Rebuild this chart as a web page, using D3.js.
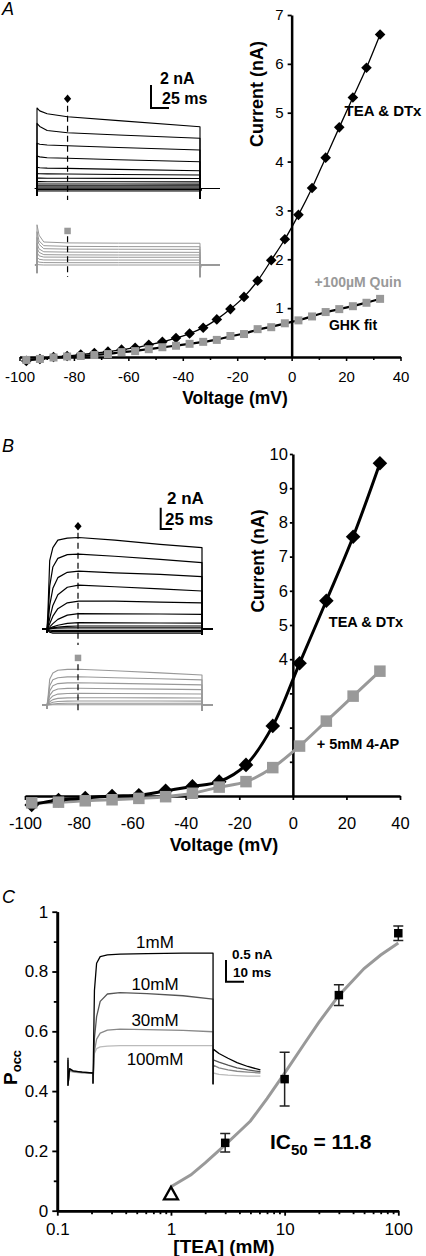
<!DOCTYPE html>
<html><head><meta charset="utf-8">
<script src="https://cdn.jsdelivr.net/npm/d3@7"></script>
<style>html,body{margin:0;padding:0;background:#fff;} svg{display:block;}</style>
</head><body>
<svg id="chart" width="426" height="1256"></svg>
<script>
// ================= DATA =================
// Panel A : I-V curves (5 mV steps)
const voltA = [-97.5,-92.5,-87.5,-82.5,-77.5,-72.5,-67.5,-62.5,-57.5,-52.5,-47.5,-42.5,-37.5,-32.5,-27.5,-22.5,-17.5,-12.5,-7.5,-2.5,2.5,7.5,12.5,17.5,22.5,27.5,32.5];
const teaA  = [-0.08,-0.04,0.0,0.02,0.05,0.08,0.11,0.15,0.19,0.25,0.31,0.39,0.48,0.60,0.77,0.98,1.23,1.56,1.98,2.41,2.91,3.46,4.08,4.70,5.31,5.92,6.60];
const quinA = [-0.06,-0.04,-0.01,0.01,0.02,0.04,0.06,0.10,0.12,0.16,0.20,0.23,0.27,0.31,0.35,0.43,0.47,0.57,0.61,0.69,0.75,0.83,0.92,0.98,1.04,1.11,1.19];
const xTicksA = [-100,-80,-60,-40,-20,0,20,40];
const xTickLabelsA = ["-100","-80","-60","-40","-20","0","20","40"];
const xMinorTicksA = [-90,-70,-50,-30,-10,10,30];
const yTicksA = [1,2,3,4,5,6,7];
const yTickLabelsA = ["1","2","3","4","5","6","7"];

// Panel B : I-V curves (10 mV steps)
const voltB = [-97.5,-87.5,-77.5,-67.5,-57.5,-47.5,-37.5,-27.5,-17.5,-7.5,2.5,12.5,22.5,32.5];
const teaB  = [-0.26,-0.12,-0.06,0.0,0.02,0.15,0.28,0.42,0.91,2.05,3.88,5.71,7.58,9.73];
const apB   = [-0.20,-0.18,-0.14,-0.11,-0.07,-0.02,0.08,0.26,0.42,0.83,1.46,2.19,2.92,3.65];
const xTicksB = [-100,-80,-60,-40,-20,0,20,40];
const xTickLabelsB = ["-100","-80","-60","-40","-20","0","20","40"];
const yTicksB = [1,2,3,4,5,6,7,8,9,10];
const yTickLabelsB = ["","","","4","5","6","7","8","9","10"];

// Panel C : dose response
const teaConc  = [3,10,30,100];
const poccMean = [0.227,0.44,0.721,0.928];
const poccErr  = [0.031,0.09,0.035,0.024];
const ctrlConc = [1];
const ctrlPocc = [0.058];
const fitConc  = [1,1.5,2,3,4,5,7,10,15,20,30,50,70,100];
const fitPocc  = [0.08,0.12,0.16,0.22,0.265,0.30,0.375,0.46,0.56,0.63,0.72,0.81,0.855,0.895];
const xTicksC = [0.1,1,10,100];
const xTickLabelsC = ["0.1","1","10","100"];
const yTicksC = [0,0.2,0.4,0.6,0.8,1];
const yTickLabelsC = ["0","0.2","0.4","0.6","0.8","1"];
const yMinorTicksC = [0.1,0.3,0.5,0.7,0.9];

// Inset traces A (ms, nA)
const insetTimesA = [0,4,15,45,120,240];
const insetBlackA = [
  [7.0,6.75,6.5,6.24,5.9,5.37],
  [5.67,5.4,5.05,4.85,4.65,4.37],
  [3.93,3.85,3.78,3.72,3.56,3.35],
  [2.83,2.75,2.68,2.63,2.5,2.33],
  [1.85,1.8,1.77,1.75,1.66,1.55],
  [1.3,1.28,1.27,1.26,1.22,1.17],
  [0.9,0.9,0.89,0.89,0.88,0.87],
  [0.6,0.6,0.59,0.59,0.59,0.58],
  [0.39,0.39,0.39,0.39,0.39,0.38],
  [0.24,0.24,0.24,0.24,0.24,0.24],
  [0.13,0.13,0.13,0.13,0.13,0.13],
  [0.02,0.02,0.02,0.02,0.02,0.02],
  [-0.1,-0.1,-0.1,-0.1,-0.1,-0.1],
  [-0.22,-0.22,-0.22,-0.22,-0.22,-0.22]
];
const insetTimesAg = [0,3,10,45,120,240];
const insetGrayA = [
  [3.5,2.6,2.0,1.92,1.9,1.89],
  [2.9,2.1,1.68,1.62,1.6,1.59],
  [2.4,1.8,1.42,1.38,1.37,1.36],
  [1.9,1.4,1.15,1.12,1.11,1.1],
  [1.5,1.1,0.9,0.88,0.87,0.87],
  [1.1,0.8,0.69,0.68,0.67,0.67],
  [0.7,0.5,0.44,0.43,0.43,0.43],
  [0.35,0.25,0.21,0.2,0.2,0.2],
  [0.05,0.02,0.0,0.0,0.0,0.0]
];
// Inset traces B
const insetTimesB = [0,2,6,13,24,45,70,150,250,343];
const insetBlackB = [
  [0,1.5,6.4,7.6,8.3,8.5,8.55,8.3,7.9,7.6],
  [0,0.8,4.0,5.8,6.6,6.95,7.0,6.8,6.5,6.2],
  [0,0.4,2.2,3.8,4.8,5.3,5.4,5.25,5.1,4.9],
  [0,0.2,1.0,2.2,3.2,3.9,4.1,3.95,3.75,3.55],
  [0,0.1,0.5,1.2,1.9,2.45,2.6,2.6,2.52,2.45],
  [0,0.05,0.2,0.5,0.9,1.3,1.43,1.42,1.4,1.37],
  [0,0.02,0.08,0.2,0.35,0.52,0.6,0.58,0.56,0.55],
  [0,0.01,0.04,0.1,0.18,0.25,0.28,0.28,0.28,0.28],
  [0,0,0.02,0.05,0.08,0.1,0.1,0.1,0.1,0.1],
  [0,-0.05,-0.1,-0.12,-0.12,-0.12,-0.12,-0.12,-0.12,-0.12],
  [0,-0.1,-0.2,-0.25,-0.25,-0.25,-0.25,-0.25,-0.25,-0.25],
  [0,-0.15,-0.3,-0.38,-0.38,-0.38,-0.38,-0.38,-0.38,-0.38]
];
const insetGrayB = [
  [0,0.6,2.4,3.0,3.25,3.33,3.34,3.2,3.0,2.8],
  [0,0.4,1.8,2.35,2.55,2.63,2.64,2.55,2.45,2.35],
  [0,0.3,1.3,1.8,2.0,2.07,2.08,2.02,1.95,1.88],
  [0,0.2,0.9,1.3,1.5,1.55,1.56,1.52,1.48,1.44],
  [0,0.1,0.55,0.85,1.02,1.08,1.09,1.07,1.05,1.03],
  [0,0.05,0.3,0.5,0.62,0.67,0.68,0.68,0.67,0.66],
  [0,0.02,0.15,0.26,0.33,0.36,0.37,0.37,0.37,0.36],
  [0,0.01,0.05,0.1,0.14,0.16,0.16,0.16,0.16,0.16],
  [0,0,0.01,0.02,0.03,0.03,0.03,0.03,0.03,0.03]
];
// Inset traces C
const insetLabelsC = ["1mM","10mM","30mM","100mM"];
const insetColorsC = ["#000","#555","#888","#bbb"];
const insetTimesC = [-13.9,-13.9,-13,-11,-6,0,0,0.8,2,4,8,15,30,50,66.7,66.7,66.8,70,75,80,86,93];
const insetTracesC = [
  [0.35,-0.28,0.1,0.05,0.02,0,-0.23,1.9,2.53,2.68,2.72,2.74,2.75,2.76,2.76,-0.25,0.55,0.45,0.34,0.24,0.15,0.07],
  [0.3,-0.28,0.08,0.04,0.02,0,-0.23,0.8,1.3,1.65,1.82,1.85,1.83,1.78,1.70,-0.25,0.3,0.25,0.18,0.12,0.07,0.03],
  [0.25,-0.28,0.06,0.03,0.01,0,-0.23,0.5,0.78,0.92,0.99,1.01,1.0,0.98,0.95,-0.25,0.18,0.12,0.07,0.04,0.02,0.0],
  [0.2,-0.28,0.04,0.02,0.0,0,-0.23,0.45,0.56,0.6,0.62,0.63,0.63,0.63,0.63,-0.25,0.0,-0.03,-0.05,-0.06,-0.07,-0.07]
];

// ================= DRAW =================
const FONT = "'Liberation Sans', Arial, Helvetica, sans-serif";
const GRAY = "#999";
const svg = d3.select("#chart");
svg.append("rect").attr("width",426).attr("height",1256).attr("fill","#fff");

function styleAxis(sel, lw, fs) {
  sel.attr("font-family", FONT).attr("font-size", fs);
  sel.select(".domain").attr("stroke","#000").attr("stroke-width", lw);
  sel.selectAll(".tick line").attr("stroke","#000").attr("stroke-width", Math.max(1.2, lw*0.7));
  sel.selectAll(".tick text").attr("fill","#000");
}
function txt(x, y, s, opt) {
  opt = opt || {};
  return svg.append("text").attr("x",x).attr("y",y).text(s)
    .attr("font-family",FONT).attr("font-size",opt.size||14)
    .attr("font-weight",opt.bold?"bold":"normal")
    .attr("font-style",opt.italic?"italic":"normal")
    .attr("text-anchor",opt.anchor||"start")
    .attr("fill",opt.fill||"#000");
}
function vtxt(x, y, s, size) {
  return svg.append("text").attr("transform",`translate(${x},${y}) rotate(-90)`)
    .attr("text-anchor","middle").attr("font-family",FONT).attr("font-size",size)
    .attr("font-weight","bold").text(s);
}
const diamondPath = (w,h) => `M0,${-h}L${w},0L0,${h}L${-w},0Z`;
const squarePath = s => `M${-s/2},${-s/2}h${s}v${s}h${-s}Z`;

function drawTraces(g, xs, ys, times, traces, color, sw, o) {
  const line = d3.line().x(d=>xs(d[0])).y(d=>ys(d[1]));
  traces.forEach(vals => {
    const pts = [[o.pre,0],[0,0],[0,o.onSpike]]
      .concat(times.map((t,i)=>[t, vals[i]]))
      .concat([[o.end,o.offSpike],[o.end+1,0],[o.post,0]]);
    g.append("path").attr("d", line(pts)).attr("fill","none")
      .attr("stroke", color).attr("stroke-width", sw).attr("stroke-linejoin","round");
  });
}
function scaleBar(x, y, w, h, sw) {
  svg.append("path").attr("d",`M${x},${y-h}V${y}H${x+w}`).attr("fill","none")
    .attr("stroke","#000").attr("stroke-width",sw);
}

// ---------- Panel A ----------
const xA = d3.scaleLinear().domain([-100,40]).range([19.5,400.5]);
const yA = d3.scaleLinear().domain([0,7]).range([357,15]);
svg.append("g").attr("transform","translate(0,357)")
  .call(d3.axisBottom(xA).tickValues(xMinorTicksA).tickSize(3).tickFormat("").tickSizeOuter(0))
  .call(g=>styleAxis(g,2.2,15));
svg.append("g").attr("transform","translate(0,357)")
  .call(d3.axisBottom(xA).tickValues(xTicksA).tickSize(4).tickPadding(10).tickSizeOuter(0)
        .tickFormat((d,i)=>xTickLabelsA[i]))
  .call(g=>styleAxis(g,2.2,15));
svg.append("g").attr("transform",`translate(${xA(0)},0)`)
  .call(d3.axisLeft(yA).tickValues(yTicksA).tickSize(4).tickPadding(4).tickSizeOuter(0)
        .tickFormat((d,i)=>yTickLabelsA[i]))
  .call(g=>styleAxis(g,2.5,15));

const lineA = d3.line().x((d,i)=>xA(voltA[i])).y(d=>yA(d));
svg.append("path").attr("d", lineA.curve(d3.curveCatmullRom)(teaA)).attr("fill","none")
  .attr("stroke","#000").attr("stroke-width",1.3);
svg.append("g").selectAll("path").data(teaA).join("path")
  .attr("d", diamondPath(5.3,5.3)).attr("fill","#000")
  .attr("transform",(d,i)=>`translate(${xA(voltA[i])},${yA(d)})`);
svg.append("path").attr("d", lineA.curve(d3.curveBasis)(quinA)).attr("fill","none")
  .attr("stroke","#000").attr("stroke-width",2.2);
svg.append("g").selectAll("path").data(quinA).join("path")
  .attr("d", squarePath(8)).attr("fill",GRAY)
  .attr("transform",(d,i)=>`translate(${xA(voltA[i])},${yA(d)})`);

txt(2,15,"A",{size:18,italic:true});
vtxt(263,94,"Current (nA)",18);
txt(235,404,"Voltage (mV)",{size:17.5,bold:true,anchor:"middle"});
txt(383,116,"TEA & DTx",{size:15,bold:true,anchor:"middle"});
txt(358,287,"+100\u00B5M Quin",{size:14,bold:true,anchor:"middle",fill:GRAY});
txt(353,330,"GHK fit",{size:14,bold:true,anchor:"middle"});

// Inset A
const insAx = d3.scaleLinear().domain([0,240]).range([37,200]);
const insAy = d3.scaleLinear().domain([0,2]).range([188.5,165.5]);
const gInsA = svg.append("g");
drawTraces(gInsA, insAx, insAy, insetTimesA, insetBlackA, "#000", 1.1,
  {pre:-3, onSpike:-0.6, end:240, offSpike:-0.85, post:269});
const insAgy = d3.scaleLinear().domain([0,2]).range([265,242]);
drawTraces(gInsA, insAx, insAgy, insetTimesAg, insetGrayA, GRAY, 1.0,
  {pre:-3, onSpike:-0.7, end:240, offSpike:-1.05, post:269});
svg.append("line").attr("x1",insAx(45)).attr("x2",insAx(45)).attr("y1",insAy(7.2)).attr("y2",insAy(-1))
  .attr("stroke","#000").attr("stroke-width",1.2).attr("stroke-dasharray","6,4");
svg.append("path").attr("d",diamondPath(3.6,4.2)).attr("fill","#000")
  .attr("transform",`translate(${insAx(45)},${insAy(7.8)})`);
svg.append("line").attr("x1",insAx(45)).attr("x2",insAx(45)).attr("y1",insAgy(2.5)).attr("y2",insAgy(-1.05))
  .attr("stroke","#000").attr("stroke-width",1.2).attr("stroke-dasharray","6,4");
svg.append("path").attr("d",squarePath(6.5)).attr("fill",GRAY)
  .attr("transform",`translate(${insAx(45)},${insAgy(2.96)})`);
scaleBar(151,108,18,23,2);
txt(160,84,"2 nA",{size:16,bold:true});
txt(162,104,"25 ms",{size:16,bold:true});

// ---------- Panel B ----------
const xB = d3.scaleLinear().domain([-100,40]).range([25,400]);
const yB = d3.scaleLinear().domain([0,10]).range([796,454]);
svg.append("g").attr("transform","translate(0,796)")
  .call(d3.axisBottom(xB).tickValues(xTicksB).tickSize(4).tickPadding(17).tickSizeOuter(0)
        .tickFormat((d,i)=>xTickLabelsB[i]))
  .call(g=>styleAxis(g,2.5,16.5));
svg.append("g").attr("transform",`translate(${xB(0)},0)`)
  .call(d3.axisLeft(yB).tickValues(yTicksB).tickSize(3).tickPadding(2).tickSizeOuter(0)
        .tickFormat((d,i)=>yTickLabelsB[i]))
  .call(g=>styleAxis(g,2.5,16.5));

const lineB = d3.line().x((d,i)=>xB(voltB[i])).y(d=>yB(d)).curve(d3.curveCatmullRom);
svg.append("path").attr("d", lineB(apB)).attr("fill","none").attr("stroke",GRAY).attr("stroke-width",3);
svg.append("path").attr("d", lineB(teaB)).attr("fill","none").attr("stroke","#000").attr("stroke-width",3);
svg.append("g").selectAll("path").data(teaB).join("path")
  .attr("d", diamondPath(7.3,7.3)).attr("fill","#000")
  .attr("transform",(d,i)=>`translate(${xB(voltB[i])},${yB(d)})`);
svg.append("g").selectAll("path").data(apB).join("path")
  .attr("d", squarePath(11.5)).attr("fill",GRAY)
  .attr("transform",(d,i)=>`translate(${xB(voltB[i])},${yB(d)})`);

txt(2,452,"B",{size:18,italic:true});
vtxt(264,561,"Current (nA)",17.5);
txt(224,851,"Voltage (mV)",{size:18,bold:true,anchor:"middle"});
txt(366,627,"TEA & DTx",{size:14.5,bold:true,anchor:"middle"});
txt(358,749,"+ 5mM 4-AP",{size:14.5,bold:true,anchor:"middle"});

// Inset B
const insBx = d3.scaleLinear().domain([0,343]).range([47,202]);
const insBy = d3.scaleLinear().domain([0,2]).range([629,607.6]);
const insBgy = d3.scaleLinear().domain([0,2]).range([705,683.6]);
const gInsB = svg.append("g");
drawTraces(gInsB, insBx, insBy, insetTimesB, insetBlackB, "#000", 1.2,
  {pre:-11, onSpike:-0.3, end:343, offSpike:-0.5, post:367});
drawTraces(gInsB, insBx, insBgy, insetTimesB, insetGrayB, GRAY, 1.1,
  {pre:-11, onSpike:-0.3, end:343, offSpike:-0.5, post:367});
svg.append("line").attr("x1",insBx(68.6)).attr("x2",insBx(68.6)).attr("y1",insBy(9.0)).attr("y2",insBy(-1.5))
  .attr("stroke","#000").attr("stroke-width",1.2).attr("stroke-dasharray","6,4");
svg.append("path").attr("d",diamondPath(3.6,4.2)).attr("fill","#000")
  .attr("transform",`translate(${insBx(68.6)},${insBy(9.6)})`);
svg.append("line").attr("x1",insBx(68.6)).attr("x2",insBx(68.6)).attr("y1",insBgy(3.8)).attr("y2",insBgy(-0.75))
  .attr("stroke","#000").attr("stroke-width",1.2).attr("stroke-dasharray","6,4");
svg.append("path").attr("d",squarePath(6.5)).attr("fill",GRAY)
  .attr("transform",`translate(${insBx(68.6)},${insBgy(4.4)})`);
scaleBar(160.7,529,11.5,21.3,2);
txt(167,504,"2 nA",{size:17,bold:true});
txt(165,525,"25 ms",{size:17,bold:true});

// ---------- Panel C ----------
const xC = d3.scaleLog().domain([0.1,100]).range([57.3,398.3]);
const yC = d3.scaleLinear().domain([0,1]).range([1210.7,911.7]);
const minorC = xC.ticks().filter(v => !xTicksC.includes(v));
svg.append("g").attr("transform","translate(0,1210.7)")
  .call(d3.axisBottom(xC).tickValues(minorC).tickSize(3.5).tickFormat("").tickSizeOuter(0))
  .call(g=>styleAxis(g,2.6,17));
svg.append("g").attr("transform","translate(0,1210.7)")
  .call(d3.axisBottom(xC).tickValues(xTicksC).tickSize(5).tickPadding(7).tickSizeOuter(0)
        .tickFormat((d,i)=>xTickLabelsC[i]))
  .call(g=>styleAxis(g,2.6,17));
svg.append("g").attr("transform","translate(57.3,0)")
  .call(d3.axisLeft(yC).tickValues(yMinorTicksC).tickSize(3.5).tickFormat("").tickSizeOuter(0))
  .call(g=>styleAxis(g,2.6,17));
svg.append("g").attr("transform","translate(57.3,0)")
  .call(d3.axisLeft(yC).tickValues(yTicksC).tickSize(5).tickPadding(4).tickSizeOuter(0)
        .tickFormat((d,i)=>yTickLabelsC[i]))
  .call(g=>styleAxis(g,2.6,17));

// Inset C
const insCx = d3.scaleLinear().domain([0,10]).range([93,111]);
const insCy = d3.scaleLinear().domain([0,1]).range([1073,1029.6]);
const lineC = d3.line().x((d,i)=>insCx(insetTimesC[i])).y(d=>insCy(d));
for (let k = insetTracesC.length-1; k >= 0; k--) {
  svg.append("path").attr("d", lineC(insetTracesC[k])).attr("fill","none")
    .attr("stroke", insetColorsC[k]).attr("stroke-width",1.3).attr("stroke-linejoin","round");
}
const labelYC = [948,990,1026,1065];
insetLabelsC.forEach((s,i)=>txt(155,labelYC[i],s,{size:17,anchor:"middle"}));
scaleBar(226,981.7,18,21.7,2);
txt(232,959,"0.5 nA",{size:13.5,bold:true});
txt(233,977,"10 ms",{size:13.5,bold:true});

// fit curve
svg.append("path").attr("d", d3.line().x((d,i)=>xC(fitConc[i])).y(d=>yC(d))(fitPocc))
  .attr("fill","none").attr("stroke","#999").attr("stroke-width",3);
// error bars
const gErr = svg.append("g");
teaConc.forEach((c,i)=>{
  const x = xC(c), y1 = yC(poccMean[i]+poccErr[i]), y2 = yC(poccMean[i]-poccErr[i]);
  gErr.append("path").attr("d",`M${x},${y1}V${y2}M${x-5},${y1}H${x+5}M${x-5},${y2}H${x+5}`)
    .attr("stroke","#222").attr("stroke-width",1.5).attr("fill","none");
});
svg.append("g").selectAll("path").data(poccMean).join("path")
  .attr("d", squarePath(8.5)).attr("fill","#000")
  .attr("transform",(d,i)=>`translate(${xC(teaConc[i])},${yC(d)})`);
svg.append("g").selectAll("path").data(ctrlPocc).join("path")
  .attr("d","M0,-6.5L7,6L-7,6Z").attr("fill","#fff").attr("stroke","#000").attr("stroke-width",2.3)
  .attr("transform",(d,i)=>`translate(${xC(ctrlConc[i])},${yC(d)})`);

txt(2,903,"C",{size:18,italic:true});
// P_occ
const pt = svg.append("text").attr("transform","translate(17,1085) rotate(-90)")
  .attr("font-family",FONT).attr("font-weight","bold");
pt.append("tspan").attr("font-size",19).text("P");
pt.append("tspan").attr("font-size",13).attr("dy",4).text("occ");
txt(224,1253,"[TEA] (mM)",{size:19,bold:true,anchor:"middle"});
const ic = svg.append("text").attr("x",270).attr("y",1149).attr("font-family",FONT).attr("font-weight","bold");
ic.append("tspan").attr("font-size",21).text("IC");
ic.append("tspan").attr("font-size",15).attr("dy",6).text("50");
ic.append("tspan").attr("font-size",21).attr("dy",-6).text(" = 11.8");
</script>
</body></html>
